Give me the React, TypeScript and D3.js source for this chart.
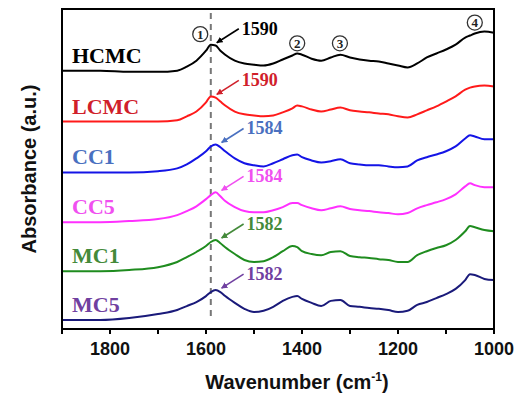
import * as d3 from 'd3';

const wavenumbers = [1900, 1820, 1760, 1700, 1660, 1640, 1620, 1600, 1590, 1580, 1570, 1560, 1540, 1520, 1500, 1480, 1460, 1440, 1420, 1410, 1400, 1380, 1360, 1340, 1320, 1300, 1280, 1260, 1240, 1220, 1200, 1180, 1160, 1140, 1120, 1100, 1080, 1060, 1050, 1040, 1020, 1000];

const hcmc = [0, 0, -0.03, -0.03, 0, 0.1, 0.25, 0.5, 0.65, 0.63, 0.5, 0.4, 0.25, 0.18, 0.15, 0.13, 0.18, 0.28, 0.38, 0.43, 0.4, 0.3, 0.25, 0.33, 0.4, 0.33, 0.28, 0.25, 0.23, 0.18, 0.13, 0.08, 0.18, 0.33, 0.43, 0.53, 0.65, 0.83, 0.88, 0.93, 0.98, 0.95];
const lcmc = [0, 0, 0, 0, 0.03, 0.13, 0.25, 0.48, 0.63, 0.6, 0.5, 0.4, 0.25, 0.18, 0.15, 0.13, 0.15, 0.23, 0.33, 0.4, 0.38, 0.3, 0.25, 0.3, 0.35, 0.28, 0.25, 0.23, 0.2, 0.18, 0.13, 0.1, 0.18, 0.28, 0.38, 0.5, 0.63, 0.8, 0.85, 0.88, 0.9, 0.88];
const cc1 = [0, 0, 0, 0.03, 0.1, 0.2, 0.35, 0.53, 0.65, 0.7, 0.63, 0.53, 0.35, 0.23, 0.18, 0.15, 0.23, 0.33, 0.43, 0.45, 0.38, 0.3, 0.25, 0.28, 0.33, 0.23, 0.2, 0.18, 0.18, 0.15, 0.13, 0.15, 0.3, 0.38, 0.45, 0.53, 0.65, 0.85, 0.93, 0.9, 0.83, 0.83];
const cc5 = [0, 0, 0.03, 0.08, 0.18, 0.28, 0.4, 0.58, 0.68, 0.75, 0.65, 0.53, 0.38, 0.28, 0.25, 0.25, 0.3, 0.38, 0.48, 0.48, 0.43, 0.35, 0.3, 0.35, 0.4, 0.33, 0.3, 0.28, 0.25, 0.23, 0.2, 0.23, 0.35, 0.43, 0.5, 0.58, 0.7, 0.9, 0.98, 0.93, 0.88, 0.88];
const mc1 = [0, 0, 0.03, 0.1, 0.23, 0.35, 0.48, 0.63, 0.73, 0.78, 0.7, 0.6, 0.43, 0.28, 0.23, 0.25, 0.35, 0.5, 0.63, 0.6, 0.5, 0.43, 0.4, 0.48, 0.5, 0.38, 0.35, 0.33, 0.3, 0.28, 0.23, 0.23, 0.4, 0.5, 0.58, 0.65, 0.78, 1.0, 1.13, 1.1, 1.03, 1.0];
const mc5 = [0, 0, 0.05, 0.15, 0.25, 0.35, 0.45, 0.6, 0.7, 0.75, 0.7, 0.6, 0.43, 0.28, 0.2, 0.23, 0.33, 0.48, 0.58, 0.6, 0.53, 0.43, 0.35, 0.48, 0.5, 0.35, 0.33, 0.3, 0.28, 0.25, 0.2, 0.23, 0.38, 0.45, 0.55, 0.65, 0.78, 1.0, 1.15, 1.13, 1.03, 1.0];

const sampleNames = ['HCMC', 'LCMC', 'CC1', 'CC5', 'MC1', 'MC5'];
const seriesValues = [hcmc, lcmc, cc1, cc5, mc1, mc5];
const offsets = [6.475, 5.2, 3.925, 2.675, 1.45, 0.225];
const peakLabels = ['1590', '1590', '1584', '1584', '1582', '1582'];
const lineColors = ['#000000', '#ff1a1a', '#1414e6', '#ff30ff', '#1f8c1f', '#1a1a7a'];
const textColors = ['#000000', '#d0202a', '#4a70c0', '#f050f0', '#448a3a', '#7040a0'];

const xTicks = [1900, 1800, 1700, 1600, 1500, 1400, 1300, 1200, 1100, 1000];
const xTickLabels = [1800, 1600, 1400, 1200, 1000];
const bandWavenumbers = [1612, 1410, 1321, 1040];
const bandLabels = ['1', '2', '3', '4'];
const bandHeights = [7.39, 7.16, 7.16, 7.68];

const W = 520;
const H = 399;
const m = { left: 62, right: 26, top: 9, bottom: 70 };

export default function App() {
  const x = d3.scaleLinear().domain([1900, 1000]).range([m.left, W - m.right]);
  const y = d3.scaleLinear().domain([0, 8.02]).range([H - m.bottom, m.top]);

  const line = d3
    .line<number>()
    .x((_, i) => x(wavenumbers[i]))
    .y((v) => v)
    .curve(d3.curveMonotoneX);

  const serif = '"Liberation Serif", "Times New Roman", serif';
  const sans = '"Liberation Sans", Arial, sans-serif';

  return (
    <svg width={W} height={H} style={{ position: 'absolute', left: 0, top: 0, background: '#fff' }}>
      <defs>
        {lineColors.map((c, i) => (
          <marker key={i} id={`arr${i}`} viewBox="0 0 10 10" refX="9" refY="5" markerWidth="4" markerHeight="4" orient="auto">
            <path d="M0,0 L10,5 L0,10 z" fill={textColors[i]} />
          </marker>
        ))}
      </defs>

      {/* dashed reference line */}
      <line x1={x(1590)} x2={x(1590)} y1={m.top + 4} y2={H - m.bottom - 12} stroke="#777" strokeWidth={2} strokeDasharray="6,5" />

      {seriesValues.map((vals, i) => {
        const ys = vals.map((v) => y(offsets[i] + v));
        let pk = 0;
        wavenumbers.forEach((w, j) => {
          if (w <= 1620 && w >= 1560 && vals[j] > vals[pk]) pk = j;
          if (pk === 0 && w === 1620) pk = j;
        });
        const px = x(wavenumbers[pk]);
        const py = y(offsets[i] + vals[pk]);
        return (
          <g key={sampleNames[i]}>
            <path d={line(ys) || ''} fill="none" stroke={lineColors[i]} strokeWidth={2} strokeLinejoin="round" />
            <text x={72} y={y(offsets[i]) - 8} fontFamily={serif} fontWeight="bold" fontSize={22} fill={textColors[i]}>
              {sampleNames[i]}
            </text>
            <line x1={px + 28} y1={py - 16} x2={px + 6} y2={py - 2} stroke={textColors[i]} strokeWidth={1.6} markerEnd={`url(#arr${i})`} />
            <text x={px + 31} y={py - 10} fontFamily={serif} fontWeight="bold" fontSize={18} fill={textColors[i]}>
              {peakLabels[i]}
            </text>
          </g>
        );
      })}

      {bandWavenumbers.map((w, i) => (
        <g key={bandLabels[i]} transform={`translate(${x(w)},${y(bandHeights[i])})`}>
          <circle r={7.5} fill="#fff" stroke="#333" strokeWidth={1.3} />
          <text y={4.5} textAnchor="middle" fontFamily={serif} fontWeight="bold" fontSize={13} fill="#222">
            {bandLabels[i]}
          </text>
        </g>
      ))}

      {/* frame */}
      <rect x={m.left} y={m.top} width={W - m.left - m.right} height={H - m.top - m.bottom} fill="none" stroke="#000" strokeWidth={2} />

      {xTicks.map((t) => (
        <line key={t} x1={x(t)} x2={x(t)} y1={H - m.bottom} y2={H - m.bottom + 5} stroke="#000" strokeWidth={2} />
      ))}
      {xTickLabels.map((t) => (
        <text key={t} x={x(t)} y={H - m.bottom + 26} textAnchor="middle" fontFamily={sans} fontWeight="bold" fontSize={18} fill="#111">
          {t}
        </text>
      ))}

      <text x={297} y={389} textAnchor="middle" fontFamily={sans} fontWeight="bold" fontSize={20} fill="#111">
        Wavenumber (cm<tspan fontSize={12} dy={-8}>-1</tspan><tspan dy={8}>)</tspan>
      </text>
      <text transform={`translate(36,${(m.top + H - m.bottom) / 2}) rotate(-90)`} textAnchor="middle" fontFamily={sans} fontWeight="bold" fontSize={20} fill="#111">
        Absorbance (a.u.)
      </text>
    </svg>
  );
}
